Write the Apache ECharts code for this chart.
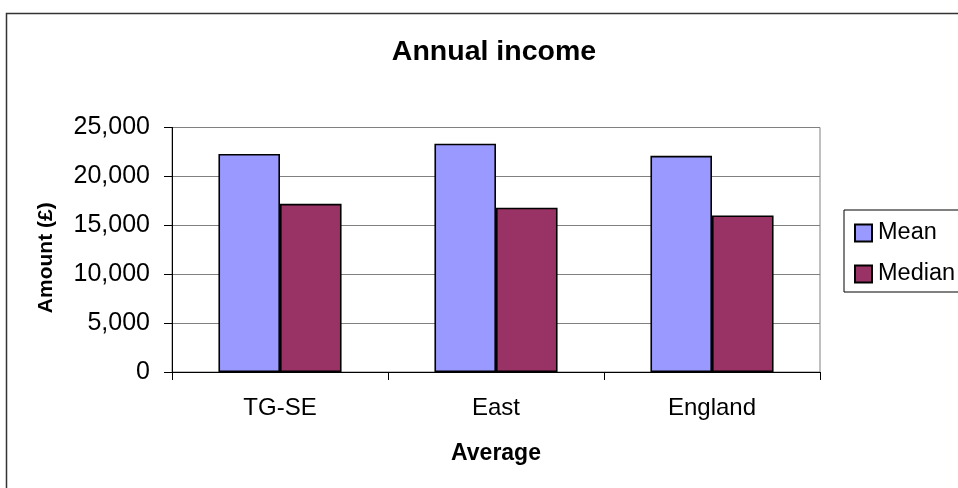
<!DOCTYPE html>
<html>
<head>
<meta charset="utf-8">
<script src="https://cdn.jsdelivr.net/npm/echarts@6/dist/echarts.min.js"></script>
<style>html,body{margin:0;padding:0;background:#fff}#c{width:958px;height:488px}</style>
</head>
<body>
<div id="c"></div>
<script>
const categories = ['TG-SE', 'East', 'England'];
const meanValues = [22300, 23350, 22100];
const medianValues = [17200, 16800, 16000];
const yTicks = [0, 5000, 10000, 15000, 20000, 25000];

const FONT = '"Liberation Sans", Arial, sans-serif';
const chart = echarts.init(document.getElementById('c'), null, {renderer: 'canvas'});
chart.setOption({
  animation: false,
  backgroundColor: '#fff',
  textStyle: {fontFamily: FONT, color: '#000'},
  title: {
    text: 'Annual income', left: 489, top: 33, textAlign: 'center',
    textStyle: {fontFamily: FONT, fontSize: 28.5, fontWeight: 'bold', color: '#000'}
  },
  legend: {
    orient: 'vertical', left: 844, top: 210,
    padding: [11, 30, 6, 10],
    borderColor: '#000', borderWidth: 1,
    icon: 'rect',
    itemWidth: 17, itemHeight: 17, itemGap: 17,
    textStyle: {fontFamily: FONT, fontSize: 23.5, lineHeight: 23, color: '#000', padding: [0,0,0,1]},
    data: ['Mean', 'Median']
  },
  grid: {left: 172, right: 138, top: 127.5, bottom: 116, show: true, borderColor: '#808080', borderWidth: 1, containLabel: false},
  xAxis: {
    type: 'category', data: categories,
    name: 'Average', nameLocation: 'middle', nameGap: 70,
    nameTextStyle: {fontFamily: FONT, fontSize: 23, fontWeight: 'bold', color: '#000'},
    axisLine: {lineStyle: {color: '#000', width: 1}},
    axisTick: {show: true, length: 8, lineStyle: {color: '#000'}},
    axisLabel: {fontFamily: FONT, fontSize: 24, color: '#000', margin: 24}
  },
  yAxis: {
    type: 'value', min: 0, max: 25000, interval: 5000,
    name: 'Amount (£)', nameLocation: 'middle', nameGap: 115, nameRotate: 90,
    nameTextStyle: {fontFamily: FONT, fontSize: 21, fontWeight: 'bold', color: '#000', padding: [0, 16, 0, 0]},
    axisLine: {show: true, lineStyle: {color: '#000', width: 1}},
    axisTick: {show: true, length: 8, lineStyle: {color: '#000'}},
    splitLine: {lineStyle: {color: '#808080', width: 1}},
    axisLabel: {
      fontFamily: FONT, fontSize: 25, color: '#000', margin: 22,
      formatter: v => yTicks.includes(v) ? v.toLocaleString('en-US') : ''
    }
  },
  series: [
    {name: 'Mean', type: 'bar', data: meanValues, barGap: '0%', barCategoryGap: '43%',
     itemStyle: {color: '#9999FF', borderColor: '#000', borderWidth: 1.6}},
    {name: 'Median', type: 'bar', data: medianValues,
     itemStyle: {color: '#993366', borderColor: '#000', borderWidth: 1.6}}
  ],
  graphic: [{
    type: 'rect', left: 4, top: 11, silent: true, z: -1,
    shape: {x: 0, y: 0, width: 1200, height: 800},
    style: {fill: 'none', stroke: '#333', lineWidth: 1.5}
  }]
});
</script>
</body>
</html>
